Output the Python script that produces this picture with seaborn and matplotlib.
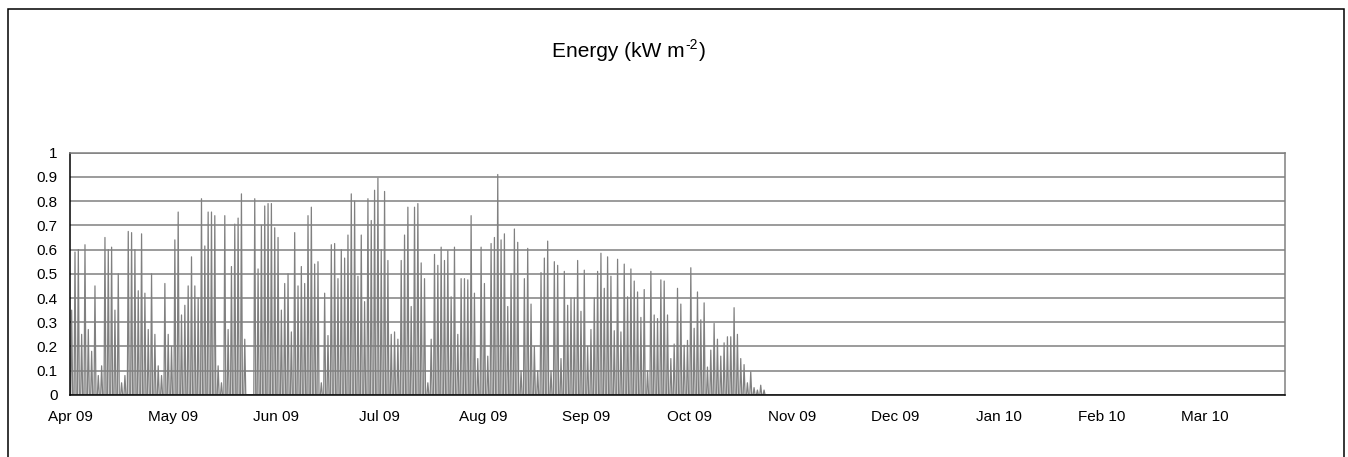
import numpy as np
import pandas as pd
import matplotlib
matplotlib.use("Agg")
import matplotlib.pyplot as plt
from matplotlib.patches import Rectangle
import seaborn as sns

# Daily peak solar energy (kW m-2), one value per day starting 1 Apr 2009.
# None marks days with no recorded data.
daily_peak = [
    0.35, 0.59, 0.60, 0.25, 0.62, 0.27, 0.18, 0.45, 0.08, 0.12,
    0.65, 0.60, 0.61, 0.35, 0.50, 0.05, 0.08, 0.675, 0.67, 0.60,
    0.43, 0.665, 0.42, 0.27, 0.50, 0.25, 0.12, 0.08, 0.46, 0.25,
    0.20, 0.64, 0.755, 0.33, 0.37, 0.45, 0.57, 0.45, 0.40, 0.81,
    0.615, 0.755, 0.755, 0.74, 0.12, 0.05, 0.74, 0.27, 0.53, 0.705,
    0.73, 0.83, 0.23, None, None, 0.81, 0.52, 0.70, 0.78, 0.79,
    0.79, 0.69, 0.65, 0.35, 0.46, 0.50, 0.26, 0.67, 0.45, 0.53,
    0.46, 0.74, 0.775, 0.54, 0.55, 0.05, 0.42, 0.245, 0.62, 0.625,
    0.48, 0.60, 0.565, 0.66, 0.83, 0.80, 0.49, 0.66, 0.385, 0.81,
    0.72, 0.845, 0.895, 0.60, 0.84, 0.555, 0.25, 0.26, 0.23, 0.555,
    0.66, 0.775, 0.365, 0.775, 0.79, 0.545, 0.48, 0.05, 0.23, 0.58,
    0.535, 0.61, 0.555, 0.595, 0.405, 0.61, 0.25, 0.48, 0.48, 0.475,
    0.74, 0.42, 0.15, 0.61, 0.46, 0.16, 0.625, 0.65, 0.91, 0.64,
    0.665, 0.365, 0.50, 0.685, 0.63, 0.10, 0.48, 0.605, 0.375, 0.20,
    0.10, 0.505, 0.565, 0.635, 0.10, 0.55, 0.535, 0.15, 0.51, 0.37,
    0.40, 0.40, 0.555, 0.345, 0.515, 0.20, 0.27, 0.40, 0.51, 0.585,
    0.44, 0.57, 0.49, 0.265, 0.56, 0.26, 0.54, 0.405, 0.52, 0.47,
    0.425, 0.32, 0.435, 0.10, 0.51, 0.33, 0.315, 0.475, 0.47, 0.33,
    0.15, 0.21, 0.44, 0.375, 0.205, 0.225, 0.525, 0.275, 0.425, 0.31,
    0.38, 0.115, 0.185, 0.295, 0.23, 0.16, 0.215, 0.24, 0.24, 0.36,
    0.25, 0.15, 0.125, 0.05, 0.095, 0.03, 0.02, 0.04, 0.02,
]

# Category-axis labels, one every 31 days across the year of records
month_labels = ["Apr 09", "May 09", "Jun 09", "Jul 09", "Aug 09", "Sep 09",
                "Oct 09", "Nov 09", "Dec 09", "Jan 10", "Feb 10", "Mar 10"]
y_labels = ["0", "0.1", "0.2", "0.3", "0.4", "0.5", "0.6", "0.7", "0.8", "0.9", "1"]
title_main = "Energy (kW m"
title_sup = "-2"
title_end = ")"

# Each day: dark at sunrise, peak around noon, dark again at sunset
rows = []
for day, peak in enumerate(daily_peak):
    if peak is None:
        continue
    rows += [(day + 0.22, 0.0), (day + 0.5, peak), (day + 0.80, 0.0)]
df = pd.DataFrame(rows, columns=["day", "energy"])

sns.set_style("white")
plt.rcParams["font.family"] = ["Liberation Sans", "DejaVu Sans"]

W, H = 1348, 457
fig = plt.figure(figsize=(W / 100, H / 100), dpi=100)
ax = fig.add_axes([70 / W, 1 - 394.9 / H, (1285 - 70) / W, (394.9 - 152.7) / H])

# outer chart frame
fig.patches.append(Rectangle((8 / W, -0.05), (1344 - 8) / W, 1 - 9 / H + 0.05,
                             transform=fig.transFigure, fill=False,
                             edgecolor="black", linewidth=1.1, zorder=0))

ax.set_axisbelow(True)
ax.yaxis.grid(True, color="#808080", linewidth=1.1)
ax.xaxis.grid(False)

sns.lineplot(data=df, x="day", y="energy", estimator=None, sort=False,
             color="#808080", linewidth=0.9, ax=ax)

ax.set_xlim(0, 365)
ax.set_ylim(0, 1)
ax.set_xticks(np.arange(len(month_labels)) * 31)
ax.set_xticklabels(month_labels)
ax.set_yticks(np.linspace(0, 1, len(y_labels)))
ax.set_yticklabels(y_labels)
ax.set_xlabel("")
ax.set_ylabel("")

ax.tick_params(axis="both", labelsize=11, colors="black", direction="out")
ax.tick_params(axis="x", length=4, width=1, pad=7)
ax.tick_params(axis="y", length=3, width=1, pad=6)

for side in ("left", "bottom"):
    ax.spines[side].set_color("black")
    ax.spines[side].set_linewidth(1.1)
for side in ("top", "right"):
    ax.spines[side].set_color("#808080")
    ax.spines[side].set_linewidth(1.1)

# Title with a raised "-2" exponent, laid out piece by piece
renderer = fig.canvas.get_renderer()
x0 = 552 / W
base_y = 1 - 57.3 / H
t1 = fig.text(x0, base_y, title_main, ha="left", va="baseline",
              fontsize=15, color="black")
w1 = t1.get_window_extent(renderer).width / W
t2 = fig.text(x0 + w1 + 1 / W, base_y + 8 / H, title_sup, ha="left",
              va="baseline", fontsize=10, color="black")
w2 = t2.get_window_extent(renderer).width / W
fig.text(x0 + w1 + w2 + 2 / W, base_y, title_end, ha="left", va="baseline",
         fontsize=15, color="black")

fig.savefig("out.png", dpi=100, facecolor="white")
